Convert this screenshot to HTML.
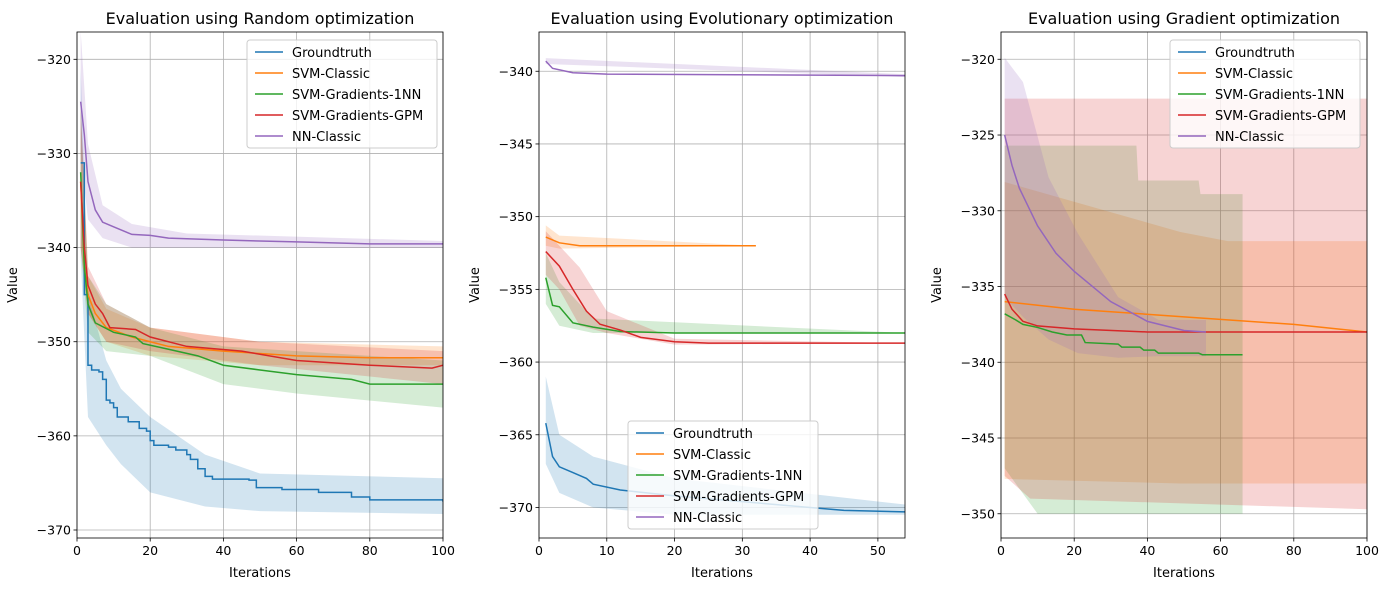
<!DOCTYPE html>
<html><head><meta charset="utf-8"><style>
body{margin:0;background:#fff;font-family:"Liberation Sans","DejaVu Sans",sans-serif}
svg text{font-family:"DejaVu Sans","Liberation Sans",sans-serif}
</style></head><body>
<svg id="chart" width="1390" height="590" xmlns="http://www.w3.org/2000/svg"></svg>
<script>
const C=['#1f77b4','#ff7f0e','#2ca02c','#d62728','#9467bd'];
const seriesNames=['Groundtruth','SVM-Classic','SVM-Gradients-1NN','SVM-Gradients-GPM','NN-Classic'];
// Panel 1: Random
const p1Titles='Evaluation using Random optimization';
const p1Ticks=[-320,-330,-340,-350,-360,-370];
const p1XTicks=[0,20,40,60,80,100];
const p1Lines=[
 [[1,-331],[2,-345],[3,-352.5],[4,-353],[6,-353.2],[7,-354],[8,-356.2],[9,-356.5],[10,-357],[11,-358],[14,-358.5],[17,-359.2],[19,-359.5],[20,-360.5],[21,-361],[25,-361.2],[27,-361.5],[30,-362],[31,-362.5],[33,-363.5],[35,-364.3],[37,-364.6],[47,-364.7],[49,-365.5],[56,-365.7],[66,-366],[75,-366.5],[80,-366.8],[100,-367]],
 [[1,-333],[2,-342],[3,-345],[5,-347],[8,-348.5],[15,-349.5],[20,-350],[25,-350.5],[40,-351],[60,-351.5],[80,-351.7],[100,-351.7]],
 [[1,-332],[2,-342],[3,-346],[5,-348],[10,-349],[16,-349.5],[18,-350.2],[25,-350.8],[33,-351.5],[40,-352.5],[50,-353],[60,-353.5],[75,-354],[80,-354.5],[100,-354.5]],
 [[1,-333],[2,-340],[3,-344],[5,-346],[7,-347],[9,-348.5],[16,-348.7],[20,-349.5],[30,-350.5],[45,-351],[60,-352],[80,-352.5],[97,-352.8],[100,-352.5]],
 [[1,-324.5],[2,-328],[3,-333],[5,-336],[7,-337.3],[10,-337.8],[15,-338.6],[20,-338.7],[25,-339],[40,-339.2],[60,-339.4],[80,-339.6],[100,-339.6]]];
const p1Bands=[
 [[1,-321,-341],[3,-345,-358],[8,-352,-361],[12,-355,-363],[20,-358,-366],[35,-362,-367.5],[50,-364,-368],[100,-364.5,-368.3]],
 [[1,-325,-340],[3,-343,-347],[8,-346.5,-350],[20,-348.5,-351.5],[50,-350,-352.5],[100,-350.5,-352.5]],
 [[1,-325,-340],[3,-343,-349],[8,-346,-351],[20,-348.5,-351.5],[40,-350.5,-354.5],[60,-351,-355.5],[100,-352,-357]],
 [[1,-325,-340],[3,-342,-347],[8,-346,-350],[20,-348.5,-351],[50,-350,-352.5],[100,-351,-354.5]],
 [[1,-317,-330],[3,-329,-337],[7,-335.5,-339],[15,-337.5,-340],[30,-338.5,-340],[100,-339.3,-340]]];
// Panel 2: Evolutionary
const p2Ticks=[-340,-345,-350,-355,-360,-365,-370];
const p2XTicks=[0,10,20,30,40,50];
const p2Lines=[
 [[1,-364.2],[2,-366.5],[3,-367.2],[5,-367.6],[7,-368],[8,-368.4],[12,-368.8],[20,-369.2],[30,-369.6],[40,-370],[45,-370.2],[54,-370.3]],
 [[1,-351.4],[3,-351.8],[6,-352],[32,-352]],
 [[1,-354.2],[2,-356.1],[3,-356.2],[5,-357.3],[8,-357.6],[12,-357.9],[20,-358],[54,-358]],
 [[1,-352.4],[3,-353.4],[5,-355],[7,-356.5],[9,-357.4],[12,-357.8],[15,-358.3],[20,-358.6],[25,-358.7],[54,-358.7]],
 [[1,-339.3],[2,-339.8],[5,-340.1],[10,-340.2],[54,-340.3]]];
const p2Bands=[
 [[1,-361,-367],[3,-365,-369],[8,-366.5,-370],[20,-368,-370.5],[54,-369.8,-370.5]],
 [[1,-350.6,-352],[3,-351.3,-352.2],[32,-352,-352]],
 [[1,-352.5,-356],[3,-354.5,-357.5],[8,-357,-358],[54,-358,-358]],
 [[1,-351,-354],[3,-352,-355],[6,-353.5,-357.5],[10,-356.5,-358],[20,-358.4,-358.8],[54,-358.7,-358.7]],
 [[1,-339.1,-339.5],[54,-340.2,-340.4]]];
// Panel 3: Gradient
const p3Ticks=[-320,-325,-330,-335,-340,-345,-350];
const p3XTicks=[0,20,40,60,80,100];
const p3Lines=[
 [],
 [[1,-336],[20,-336.5],[50,-337],[80,-337.5],[100,-338]],
 [[1,-336.8],[4,-337.2],[6,-337.5],[10,-337.7],[14,-338],[18,-338.2],[22,-338.2],[23,-338.7],[32,-338.8],[33,-339],[38,-339],[39,-339.2],[42,-339.2],[43,-339.4],[54,-339.4],[55,-339.5],[66,-339.5]],
 [[1,-335.5],[3,-336.5],[6,-337.3],[10,-337.6],[20,-337.8],[40,-338],[100,-338]],
 [[1,-325],[3,-327],[5,-328.5],[10,-331],[15,-332.8],[20,-334],[30,-336],[40,-337.3],[50,-337.9],[56,-338]]];
const p3Bands=[
 [],
 [[1,-328.1,-347.7],[49,-331.4,-348],[62,-332,-348],[100,-332,-348]],
 [[1,-325.7,-347],[7,-325.7,-349],[10,-325.7,-350],[37,-325.7,-350],[37.5,-328,-350],[54,-328,-350],[54.5,-328.9,-350],[66,-328.9,-350]],
 [[1,-322.6,-347.5],[8,-322.6,-349],[100,-322.6,-349.7]],
 [[1,-319.9,-335.7],[6,-321.5,-337],[13,-327.8,-338.5],[21,-331.5,-339.4],[32,-335.7,-339.7],[43,-337.2,-339.6],[56,-337.2,-339.6]]];
const stepSeries=[[true,false,false,false,false],[false,false,false,false,false],[false,false,false,false,false]];

const svg=document.getElementById('chart');
const NS='http://www.w3.org/2000/svg';
function mk(tag,attrs,parent,text){const e=document.createElementNS(NS,tag);for(const k in attrs)e.setAttribute(k,attrs[k]);if(text!==undefined)e.textContent=text;(parent||svg).appendChild(e);return e;}
function panel(idx,cfg){
 const g=mk('g',{});
 
 
 const L=cfg.left,R=cfg.left+366,T=32,B=538;
 const sx=v=>L+(v-cfg.x0)/(cfg.x1-cfg.x0)*(R-L);
 const sy=v=>T+(cfg.y1-v)/(cfg.y1-cfg.y0)*(B-T);
 const clip=mk('clipPath',{id:'c'+idx},g);mk('rect',{x:L,y:T,width:R-L,height:B-T},clip);
 cfg.xt.forEach(v=>{const l=mk('line',{x1:sx(v),x2:sx(v),y1:T,y2:B,stroke:'#b0b0b0','stroke-width':0.8},g);});
 cfg.yt.forEach(v=>{const l=mk('line',{x1:L,x2:R,y1:sy(v),y2:sy(v),stroke:'#b0b0b0','stroke-width':0.8},g);});
 const dg=mk('g',{'clip-path':'url(#c'+idx+')'},g);
 cfg.bands.forEach((b,i)=>{if(!b.length)return;
  const up=b.map(p=>sx(p[0])+','+sy(p[1])).join(' ');
  const lo=b.slice().reverse().map(p=>sx(p[0])+','+sy(p[2])).join(' ');
  const p=mk('polygon',{points:up+' '+lo,fill:C[i],'fill-opacity':0.2},dg);
  
  });
 cfg.lines.forEach((s,i)=>{if(!s.length)return;
  let pts=[];
  s.forEach((q,j)=>{if(cfg.step[i]&&j>0)pts.push(sx(q[0])+','+sy(s[j-1][1]));pts.push(sx(q[0])+','+sy(q[1]));});
  const p=mk('polyline',{points:pts.join(' '),fill:'none',stroke:C[i],'stroke-width':1.5},dg);
  
  });
 mk('rect',{x:L,y:T,width:R-L,height:B-T,fill:'none',stroke:'#000','stroke-width':0.8},g);
 cfg.xt.forEach(v=>{mk('line',{x1:sx(v),x2:sx(v),y1:B,y2:B+3.5,stroke:'#000','stroke-width':0.8},g);
  const t=mk('text',{x:sx(v),y:B+17,'font-size':12.5,'text-anchor':'middle'},g,String(v));
  });
 cfg.yt.forEach(v=>{mk('line',{x1:L-3.5,x2:L,y1:sy(v),y2:sy(v),stroke:'#000','stroke-width':0.8},g);
  const t=mk('text',{x:L-6,y:sy(v)+4.5,'font-size':12.5,'text-anchor':'end'},g,'\u2212'+Math.abs(v));
  });
 let t=mk('text',{x:(L+R)/2,y:24,'font-size':16,'text-anchor':'middle'},g,cfg.title);
 
 t=mk('text',{x:(L+R)/2,y:577,'font-size':13,'text-anchor':'middle'},g,'Iterations');
 
 t=mk('text',{x:0,y:0,'font-size':13,'text-anchor':'middle',transform:'translate('+(L-60)+','+((T+B)/2)+') rotate(-90)'},g,'Value');
 
 const lg=mk('g',{},g);
 
 mk('rect',{x:cfg.lx,y:cfg.ly,width:190,height:108,rx:3,fill:'#fff','fill-opacity':0.8,stroke:'#ccc'},lg);
 seriesNames.forEach((n,i)=>{const y=cfg.ly+12+i*21;
  mk('line',{x1:cfg.lx+8,x2:cfg.lx+36,y1:y,y2:y,stroke:C[i],'stroke-width':1.5},lg);
  const tt=mk('text',{x:cfg.lx+45,y:y+5,'font-size':13},lg,n);
  });
}
panel(0,{left:77,x0:0,x1:100,y0:-370.85,y1:-317.1,xt:p1XTicks,yt:p1Ticks,lines:p1Lines,bands:p1Bands,title:p1Titles,lx:247,ly:40,step:stepSeries[0]});
panel(1,{left:539,x0:0,x1:54,y0:-372.1,y1:-337.3,xt:p2XTicks,yt:p2Ticks,lines:p2Lines,bands:p2Bands,title:'Evaluation using Evolutionary optimization',lx:628,ly:421,step:stepSeries[1]});
panel(2,{left:1001,x0:0,x1:100,y0:-351.6,y1:-318.2,xt:p3XTicks,yt:p3Ticks,lines:p3Lines,bands:p3Bands,title:'Evaluation using Gradient optimization',lx:1170,ly:40,step:stepSeries[2]});
</script>
</body></html>
